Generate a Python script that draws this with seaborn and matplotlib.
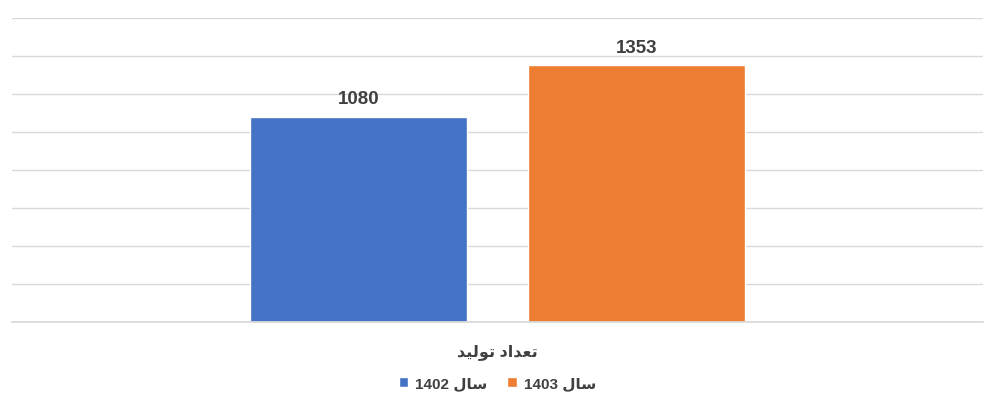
import matplotlib
matplotlib.use("Agg")
import matplotlib.pyplot as plt
import pandas as pd
import seaborn as sns

# data
category = "تعداد تولید"
years = ["سال 1402", "سال 1403"]
values = [1080, 1353]
colors = ["#4472C4", "#ED7D31"]
yticks = [0, 200, 400, 600, 800, 1000, 1200, 1400, 1600]

# tiny persian shaper (matplotlib has no bidi / joining)
FORMS = {
    "ت": ("\uFE95", "\uFE97", "\uFE98", "\uFE96"),
    "ع": ("\uFEC9", "\uFECB", "\uFECC", "\uFECA"),
    "د": ("\uFEA9", None, None, "\uFEAA"),
    "ا": ("\uFE8D", None, None, "\uFE8E"),
    "و": ("\uFEED", None, None, "\uFEEE"),
    "ل": ("\uFEDD", "\uFEDF", "\uFEE0", "\uFEDE"),
    "ی": ("\uFBFC", "\uFBFE", "\uFBFF", "\uFBFD"),
    "س": ("\uFEB1", "\uFEB3", "\uFEB4", "\uFEB2"),
}


def shape_word(w):
    if not any(c in FORMS for c in w):
        return w
    out = []
    for i, c in enumerate(w):
        f = FORMS[c]
        prev = i > 0 and FORMS[w[i - 1]][1] is not None
        nxt = f[1] is not None and i + 1 < len(w)
        if prev and nxt:
            out.append(f[2])
        elif prev:
            out.append(f[3])
        elif nxt:
            out.append(f[1])
        else:
            out.append(f[0])
    return "".join(reversed(out))


def fa(text):
    return " ".join(shape_word(w) for w in reversed(text.split(" ")))


df = pd.DataFrame({"cat": [fa(category)] * len(years),
                   "year": [fa(y) for y in years],
                   "value": values})

sns.set_theme(style="white")
plt.rcParams["font.family"] = ["Liberation Sans", "DejaVu Sans"]
text_color = "#404040"

fig = plt.figure(figsize=(10, 4.14), dpi=100)
ax = fig.add_axes([0.012, 0.2186, 0.971, 0.7348])

sns.barplot(data=df, x="cat", y="value", hue="year",
            palette=colors, width=0.5726, gap=0.219, ax=ax, saturation=1)

ax.set_xlim(-0.5, 0.5)
ax.set_ylim(0, 1600)
ax.set_yticks(yticks)
ax.yaxis.grid(True, color="#D9D9D9", linewidth=1)
ax.set_axisbelow(True)
ax.tick_params(axis="y", left=False, labelleft=False)
ax.tick_params(axis="x", bottom=False, labelsize=11.5, colors=text_color, pad=9)
for lab in ax.get_xticklabels():
    lab.set_fontweight("bold")
ax.set_xlabel("")
ax.set_ylabel("")
for s in ["top", "right", "left"]:
    ax.spines[s].set_visible(False)
ax.spines["bottom"].set_color("#D9D9D9")

for cont in ax.containers:
    ax.bar_label(cont, fmt="%d", padding=7, fontsize=13.5,
                 fontweight="bold", color=text_color)

handles, labels = ax.get_legend_handles_labels()
ax.legend(handles, labels, loc="center", bbox_to_anchor=(0.5, -0.20),
          ncol=2, frameon=False, handlelength=0.6, handleheight=0.6,
          handletextpad=0.5, columnspacing=1.3,
          prop={"weight": "bold", "size": 11})
for t in ax.get_legend().get_texts():
    t.set_color(text_color)

fig.savefig("out.png", dpi=100)
